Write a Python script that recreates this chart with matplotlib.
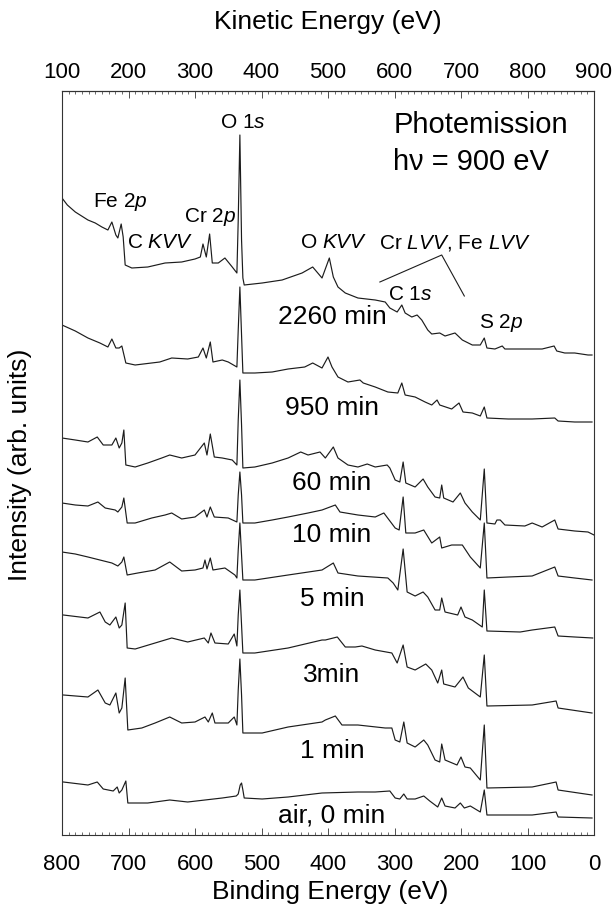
import matplotlib
matplotlib.use("Agg")
import matplotlib.pyplot as plt
from matplotlib.ticker import MultipleLocator, FixedLocator

plt.rcParams['font.family'] = ['Liberation Sans', 'DejaVu Sans']
plt.rcParams['mathtext.fontset'] = 'custom'
plt.rcParams['mathtext.rm'] = 'Liberation Sans'
plt.rcParams['mathtext.it'] = 'Liberation Sans:italic'

# ---------------- data: (binding energy eV, intensity arb. units, stacked) ----------------
spec_2260 = [(800,642),(792,635),(780,628),(761,620),(750,617),(740,613),(731,610),(725,618),(719,605),(716,602),
             (711,616),(708,603),(705,575),(695,572),(671,573),(645,577),(620,578),(600,581),(592,583),
             (588,596),(583,583),(578,606),(574,577),(565,577),(555,582),(544,573),(537,567),(535,620),
             (532.5,705),(530,600),(528,562),(526,555),(499,557),(469,560),(439,567),(423,573),(409,562),
             (398,582),(392,563),(385,553),(374,547),(355,542),(329,540),(314,538),(307,532),(296,528),
             (289,535),(284,527),(274,523),(266,525),(259,520),(250,510),(244,506),(232,507),(224,504),
             (209,507),(198,500),(183,495),(171,495),(165,502),(161,492),(149,491),(138,494),(134,491),
             (104,491),(78,491),(60,494),(56,489),(44,487),(29,487),(9,485),(3,485)]

spec_950 = [(800,515),(780,509),(761,502),(743,497),(731,493),(725,501),(719,492),(714,492),(710,494),
            (704,477),(690,475),(653,478),(635,482),(611,481),(595,483),(588,492),(583,482),(577,498),
            (573,478),(559,480),(550,478),(537,473),(535,510),(532.5,553),(530,505),(528,467),(510,467),
            (484,468),(460,471),(435,473),(423,477),(409,472),(400,483),(394,473),(385,463),(370,458),
            (352,460),(347,457),(329,453),(310,448),(295,447),(289,457),(284,445),(269,443),(254,438),
            (244,435),(236,440),(232,435),(214,431),(203,437),(197,428),(183,427),(171,424),(165,433),
            (161,422),(129,421),(93,421),(59,422),(54,419),(29,418),(3,418)]

spec_60 = [(800,402),(780,400),(761,398),(747,403),(738,395),(725,395),(719,402),(714,392),(710,397),
           (707,410),(704,375),(690,373),(671,377),(650,382),(638,385),(620,382),(600,385),(586,397),
           (582,385),(577,406),(571,383),(559,382),(544,380),(537,375),(535,420),(532.5,460),(530,415),
           (528,372),(510,373),(484,377),(460,382),(441,388),(430,385),(412,388),(404,382),(392,393),
           (385,382),(370,375),(355,373),(341,376),(329,373),(311,375),(307,372),(299,360),(292,358),
           (287,378),(283,357),(269,353),(257,361),(250,353),(239,343),(232,342),(229,355),(226,342),
           (212,338),(201,347),(194,337),(183,328),(171,320),(165,371),(161,317),(149,316),(146,320),
           (141,320),(134,315),(104,314),(93,317),(78,313),(59,320),(54,311),(29,309),(9,308),(0,305)]

spec_10 = [(800,337),(780,335),(761,334),(746,338),(735,332),(720,330),(716,328),(710,333),(707,342),
           (702,317),(690,317),(665,322),(645,325),(635,327),(620,321),(600,323),(586,330),(582,323),
           (577,333),(571,323),(550,322),(537,318),(535,345),(532.5,368),(530,345),(528,317),(510,317),
           (484,320),(460,323),(430,327),(409,330),(389,335),(382,328),(355,325),(329,323),(316,327),
           (299,312),(293,310),(287,343),(283,307),(269,307),(256,310),(244,297),(232,303),(229,292),
           (214,295),(198,295),(186,283),(171,272),(165,317),(161,262),(129,263),(93,264),(59,273),
           (54,264),(29,262),(3,260)]

spec_5 = [(800,288),(780,286),(761,283),(743,280),(725,277),(716,274),(710,278),(707,283),(702,265),
          (686,267),(660,270),(638,278),(620,269),(600,270),(588,272),(585,280),(582,271),(577,282),
          (573,270),(555,272),(540,265),(537,262),(535,290),(532.5,317),(530,285),(528,260),(510,260),
          (460,265),(409,270),(392,277),(385,267),(355,264),(310,262),(302,257),(295,250),(287,291),
          (281,248),(269,244),(257,248),(250,243),(239,230),(232,230),(229,242),(224,228),(205,225),
          (200,233),(194,223),(183,220),(168,213),(165,250),(161,209),(111,208),(93,210),(59,213),
          (54,204),(29,203),(2,202)]

spec_3 = [(798,225),(761,222),(743,228),(735,218),(728,215),(719,223),(714,212),(710,215),(705,237),
          (702,192),(690,191),(660,197),(635,202),(611,198),(586,202),(580,197),(576,207),(570,197),
          (550,196),(541,206),(537,194),(535,225),(532.5,250),(530,215),(528,187),(510,187),(460,192),
          (409,200),(404,200),(386,203),(374,193),(359,193),(349,194),(329,190),(304,187),(296,177),
          (287,195),(281,173),(269,170),(253,176),(244,170),(235,157),(229,170),(226,156),(209,153),
          (197,163),(189,152),(171,143),(165,185),(161,134),(93,135),(57,139),(54,132),(3,127)]

spec_1 = [(798,145),(761,143),(746,150),(735,137),(728,135),(719,147),(714,127),(710,132),(705,162),
          (701,110),(680,112),(660,117),(638,123),(620,117),(600,118),(585,123),(580,118),(574,127),
          (570,117),(550,117),(541,123),(537,115),(535,150),(532.5,181),(530,145),(528,107),(499,107),
          (460,113),(409,118),(404,120),(389,124),(379,115),(355,115),(314,112),(304,112),(299,100),
          (292,98),(286,118),(281,97),(269,93),(256,100),(250,95),(239,80),(232,78),(229,96),(224,80),
          (206,75),(200,83),(194,73),(186,72),(171,60),(165,115),(161,52),(93,53),(57,58),(54,50),(3,45)]

spec_air = [(798,58),(761,55),(747,58),(738,51),(723,49),(717,53),(714,47),(710,50),(704,59),(701,37),
            (671,37),(638,40),(611,38),(559,42),(538,44),(535,46),(532,55),(530,57),(528,50),(526,42),
            (499,41),(460,43),(409,47),(355,48),(329,48),(307,49),(299,42),(292,41),(286,46),(281,41),
            (269,41),(256,44),(247,39),(235,33),(229,42),(224,34),(209,32),(201,37),(195,32),(186,34),
            (171,28),(165,50),(161,25),(93,25),(57,28),(54,23),(3,22)]

spectra = [spec_2260, spec_950, spec_60, spec_10, spec_5, spec_3, spec_1, spec_air]
time_labels = ["2260 min", "950 min", "60 min", "10 min", "5 min", "3min", "1 min", "air, 0 min"]
label_heights = [523, 432, 357, 305, 241, 165, 89, 25]

peak_labels = [("Fe 2$\\mathit{p}$", 713, 638), ("C $\\mathit{KVV}$", 653, 597),
               ("Cr 2$\\mathit{p}$", 577, 623), ("O 1$\\mathit{s}$", 528, 717),
               ("O $\\mathit{KVV}$", 392, 597), ("Cr $\\mathit{LVV}$, Fe $\\mathit{LVV}$", 209, 597),
               ("C 1$\\mathit{s}$", 277, 545), ("S 2$\\mathit{p}$", 140, 517)]

photon_energy = 900
be_ticks = [800, 700, 600, 500, 400, 300, 200, 100, 0]
ke_ticks = [100, 200, 300, 400, 500, 600, 700, 800, 900]

# ---------------- figure ----------------
W, H = 616, 915
fig = plt.figure(figsize=(W / 100, H / 100), dpi=100)
ax = fig.add_axes([62 / W, (H - 835) / H, (594 - 62) / W, (835 - 91) / H])

line_color = '#1c1c1c'
for spec in spectra:
    be = [p[0] for p in spec]
    inten = [p[1] for p in spec]
    ax.plot(be, inten, color=line_color, lw=0.85)

ax.set_xlim(800, 0)
ax.set_ylim(5, 749)
ax.set_yticks([])

ax.xaxis.set_major_locator(FixedLocator(be_ticks))
ax.xaxis.set_minor_locator(MultipleLocator(10))
ax.tick_params(axis='x', which='major', direction='in', length=5, width=0.6, labelsize=16, pad=14,
               color='#333333')
ax.tick_params(axis='x', which='minor', direction='in', length=2.5, width=0.5, color='#333333')

secax = ax.secondary_xaxis('top', functions=(lambda x: photon_energy - x, lambda x: photon_energy - x))
secax.xaxis.set_major_locator(FixedLocator(ke_ticks))
secax.xaxis.set_minor_locator(MultipleLocator(10))
secax.tick_params(axis='x', which='major', direction='in', length=5, width=0.6, labelsize=16, pad=6,
                  color='#333333')
secax.tick_params(axis='x', which='minor', direction='in', length=2.5, width=0.5, color='#333333')
secax.spines['top'].set_linewidth(0.8)
secax.spines['top'].set_color('#333333')

for s in ax.spines.values():
    s.set_linewidth(0.8)
    s.set_color('#333333')

fig.text(328 / W, 1 - 22 / H, "Kinetic Energy (eV)", ha='center', va='center', fontsize=19)
fig.text(330 / W, 1 - 892 / H, "Binding Energy (eV)", ha='center', va='center', fontsize=19)
fig.text(20 / W, 1 - 465 / H, "Intensity (arb. units)", ha='center', va='center', fontsize=19,
         rotation=90)

for txt, h in zip(time_labels, label_heights):
    ax.text(394, h, txt, ha='center', va='center', fontsize=19)

for txt, x, y in peak_labels:
    ax.text(x, y, txt, ha='center', va='center', fontsize=15)

ax.plot([322, 229, 195], [558, 585, 544], color=line_color, lw=0.8)

ax.text(302, 715, "Photemission", ha='left', va='center', fontsize=21)
ax.text(302, 678, "h\u03bd = 900 eV", ha='left', va='center', fontsize=21)

fig.savefig("out.png", dpi=100)
